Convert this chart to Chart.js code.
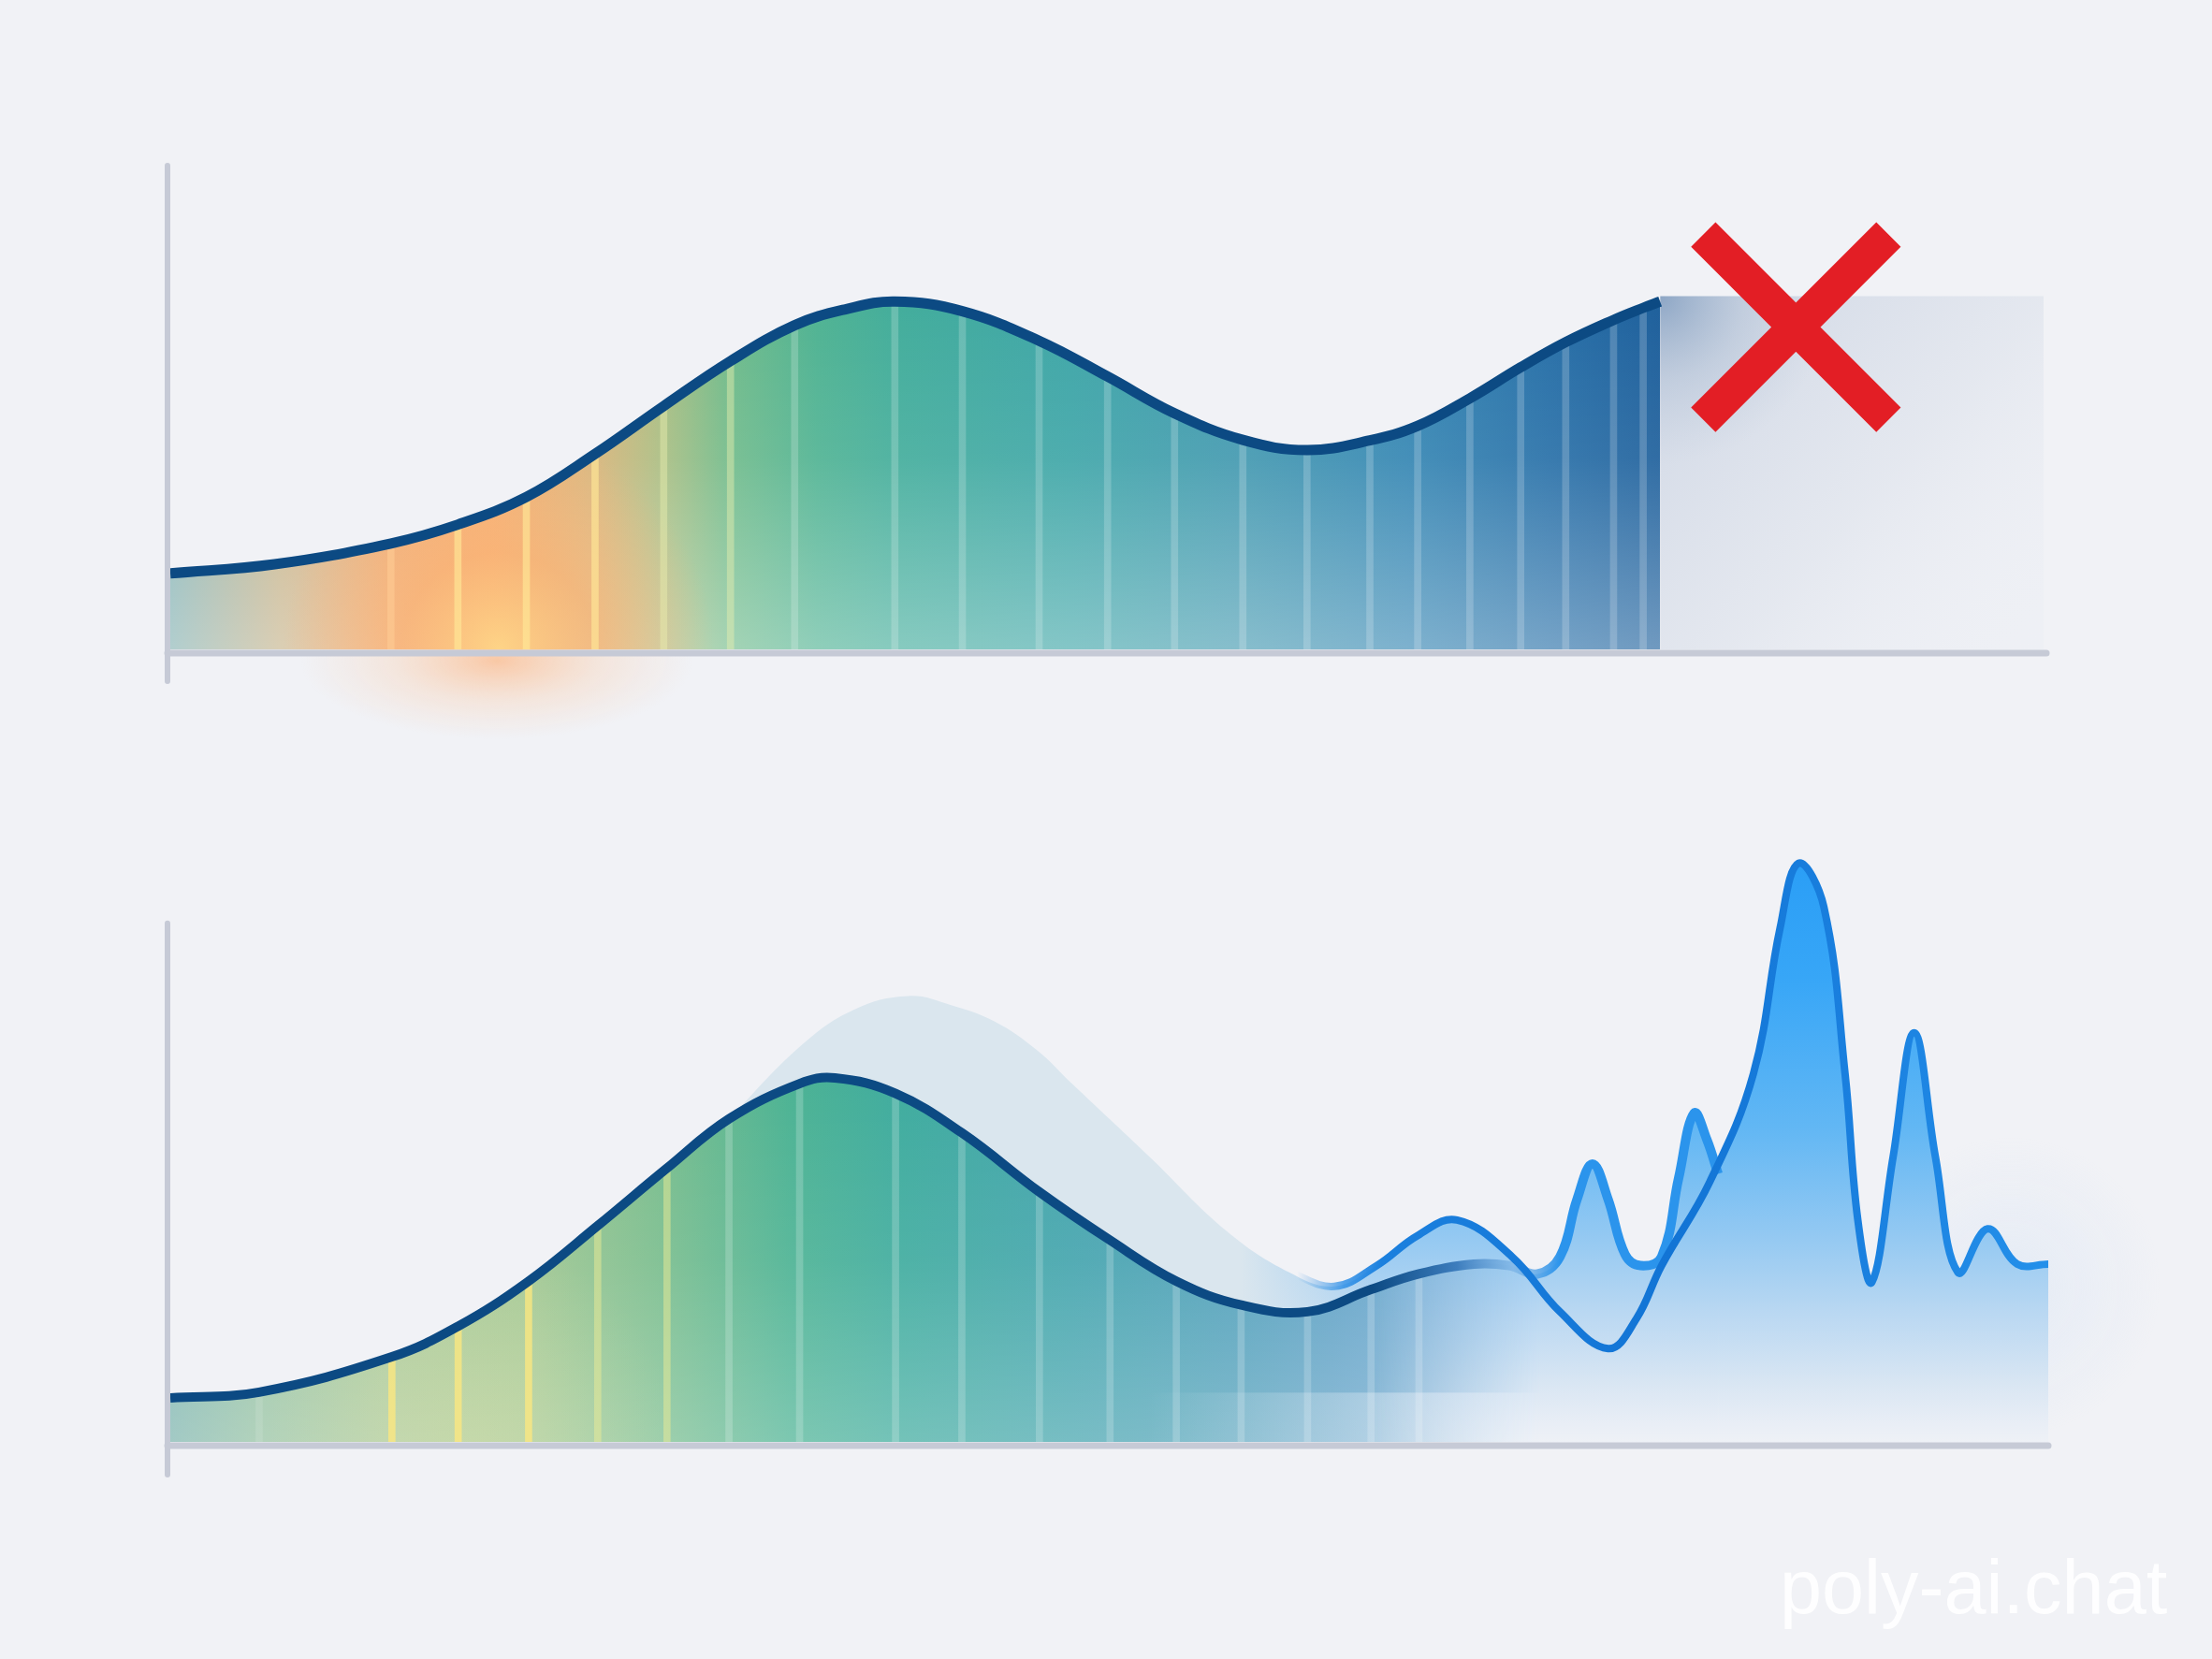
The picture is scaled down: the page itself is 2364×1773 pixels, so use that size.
<!DOCTYPE html>
<html>
<head>
<meta charset="utf-8">
<script src="https://cdn.jsdelivr.net/npm/chart.js@4.4.1/dist/chart.umd.min.js"></script>
<style>
html,body{margin:0;padding:0;background:#f1f2f6;width:2364px;height:1773px;overflow:hidden;}
canvas{position:absolute;left:0;}
#c1{top:0;}
#c2{top:780px;}
#wm{position:absolute;left:1902px;top:1656px;font-family:"Liberation Sans",Arial,sans-serif;font-size:81px;line-height:1;color:rgba(255,255,255,0.92);white-space:nowrap;}
</style>
</head>
<body>
<canvas id="c1" width="2364" height="900"></canvas>
<canvas id="c2" width="2364" height="993"></canvas>
<div id="wm">poly-ai.chat</div>
<script>
// ---------- DATA (x: 0..100 along the axis, y: value above baseline) ----------
// Top panel: measured curve, cut off
const topX = [0,5.56,11.76,15.33,18.98,22.64,26.30,29.86,33.28,35.99,38.62,42.22,46.31,49.96,53.53,57.17,60.59,63.94,66.49,69.27,71.98,74.38,76.93,78.51,79.41];
const topY = [15.7,17.6,21.9,25.8,31.5,40.4,50.3,59.6,67.0,70.3,71.9,69.9,63.8,56.4,48.8,43.3,41.2,43.2,46.2,51.9,58.3,63.5,68.1,70.6,71.9];
const topStripeX = [11.76,15.33,18.98,22.64,26.30,29.86,33.28,38.62,42.22,46.31,49.96,53.53,57.17,60.59,63.94,66.49,69.27,71.98,74.38,76.93,78.51];
const topGhostX = [79.41,99.85];
const topGhostY = [73.0,73.0];
const crossX = [86.65];
const crossY = [66.6];

// Bottom panel: measured curve continuing into a lighter trace
const botActualX = [0,4.73,11.80,15.33,19.08,22.76,26.45,29.75,33.51,35.39,38.62,42.15,46.28,50.04,53.57,57.02,60.56,63.94,66.49,69.42,71.30,72.80,74.00,74.91,75.73,76.56,77.46,78.29,79.41,80.32,81.14,81.82,82.42];
const botActualY = [8.5,9.6,16.4,22.3,31.0,41.7,52.8,62.3,69.1,70.2,67.2,59.6,48.2,38.9,31.0,26.4,25.1,29.4,32.4,34.3,34.0,32.4,35.7,46.8,53.6,46.8,36.2,34.0,35.7,50.9,63.4,58.3,51.7];
const botStripeX = [4.73,11.80,15.33,19.08,22.76,26.45,29.75,33.51,38.62,42.15,46.28,50.04,53.57,57.02,60.56,63.94,66.49];
// Bottom panel: expected (ghost) curve turning into the oscillating trace
const botForecastX = [29.75,33.51,36.36,39.29,41.62,43.88,46.13,48.01,52.14,56.27,59.58,61.98,64.24,66.42,68.52,71.45,74.00,76.56,78.06,79.41,81.97,84.30,85.72,86.70,88.05,89.18,89.86,90.61,91.74,92.86,93.99,95.19,96.77,98.35,100];
const botForecastY = [62.3,76.2,83.3,86.0,84.2,81.1,75.6,69.1,55.0,40.6,32.7,30.0,34.0,39.8,42.8,35.7,25.1,18.0,23.7,34.0,50.1,71.0,99.1,111.6,103.2,71.0,42.8,30.8,55.0,78.9,55.0,32.7,41.1,34.3,34.3];
const forecastLineStart = 10;

// ---------- STYLE ----------
const NAVY = '#0c4a83';
const AXIS = '#c6cad6';
const TOP_FILL_STOPS = [[0,'#86b3b4'],[5.9,'#c6b38a'],[11.7,'#eba66d'],[17.2,'#f3aa6c'],[22.7,'#d6b479'],[26.3,'#a9be83'],[29.9,'#70bb8b'],[34.5,'#50b393'],[39,'#43ad9c'],[48,'#3fa6a8'],[57,'#4399b0'],[66,'#3586b3'],[73.5,'#2870a8'],[79.5,'#1f609c'],[100,'#1f609c']];
const BOT_FILL_STOPS = [[0,'#80b6b0'],[5,'#96c2a2'],[11.8,'#a6c796'],[19,'#a0c690'],[26.4,'#78bd8e'],[33,'#4db394'],[39,'#40ac9f'],[48,'#45a5ae'],[57,'#52a0bb'],[62,'#60a2c6'],[68,'#74abd4'],[74,'#84bbe8'],[100,'#8fc5f2']];
const BLUE_V_STOPS = [[0,'#2a9ef6'],[0.2,'#37a6f7'],[0.46,'#62b7f4'],[0.64,'#92c8f2'],[0.78,'#bad8f2'],[0.9,'#d9e6f3'],[0.97,'#e9eef6'],[1,'#eef1f6']];

const pts = (xs, ys) => xs.map((x, i) => ({x, y: ys[i]}));
const lookup = (xs, ys, sel) => sel.map(x => ({x, y: ys[xs.indexOf(x)]}));

const cache = new WeakMap();
function offCanvas(w, h) { const c = document.createElement('canvas'); c.width = w; c.height = h; return c; }
function pattern(chart, key, painter) {
  let m = cache.get(chart); if (!m) { m = {}; cache.set(chart, m); }
  if (!m[key]) {
    const off = offCanvas(chart.width, chart.height);
    painter(off.getContext('2d'), chart.scales.x, chart.scales.y, chart.chartArea);
    m[key] = chart.ctx.createPattern(off, 'no-repeat');
  }
  return m[key];
}
const scriptPattern = (key, painter) => (c) => {
  const ch = c.chart; if (!ch.chartArea) return 'rgba(0,0,0,0)';
  return pattern(ch, key, painter);
};
function hGrad(g, X, stops) {
  const gr = g.createLinearGradient(X.getPixelForValue(0), 0, X.getPixelForValue(100), 0);
  stops.forEach(([v, c]) => gr.addColorStop(v / 100, c));
  return gr;
}
function radial(g, cx, cy, r, stops) {
  const gr = g.createRadialGradient(cx, cy, 0, cx, cy, r);
  stops.forEach(([v, c]) => gr.addColorStop(v, c));
  g.fillStyle = gr; g.fillRect(cx - r, cy - r, 2 * r, 2 * r);
}
function vGrad(g, Y, fromVal, stops) {
  const gr = g.createLinearGradient(0, Y.getPixelForValue(fromVal), 0, Y.getPixelForValue(0));
  stops.forEach(([v, c]) => gr.addColorStop(v, c));
  g.fillStyle = gr; g.fillRect(0, 0, g.canvas.width, g.canvas.height);
}

function paintTopFill(g, X, Y) {
  g.fillStyle = hGrad(g, X, TOP_FILL_STOPS);
  g.fillRect(0, 0, g.canvas.width, g.canvas.height);
  vGrad(g, Y, 72, [[0,'rgba(255,255,255,0)'],[0.45,'rgba(255,255,255,0.08)'],[1,'rgba(255,255,255,0.36)']]);
  radial(g, X.getPixelForValue(17.5), Y.getPixelForValue(0), 230,
    [[0,'rgba(255,214,130,0.85)'],[0.45,'rgba(252,172,102,0.55)'],[1,'rgba(252,172,102,0)']]);
}
function paintTopGhost(g, X, Y) {
  const x0 = X.getPixelForValue(79.41), y0 = Y.getPixelForValue(73), x1 = X.getPixelForValue(100), y1 = Y.getPixelForValue(0);
  g.fillStyle = '#eef0f5'; g.fillRect(0, 0, g.canvas.width, g.canvas.height);
  const d = g.createLinearGradient(x0, y0, x1, y1);
  d.addColorStop(0, 'rgba(206,214,228,1)'); d.addColorStop(0.55, 'rgba(226,230,238,0.8)'); d.addColorStop(1, 'rgba(240,241,246,0)');
  g.fillStyle = d; g.fillRect(0, 0, g.canvas.width, g.canvas.height);
  radial(g, x0, y0, 180, [[0,'rgba(130,158,192,0.85)'],[0.5,'rgba(160,180,205,0.35)'],[1,'rgba(180,195,215,0)']]);
}
function paintBlue(g, Y) { vGrad(g, Y, 112, BLUE_V_STOPS); }
function paintBotActual(g, X, Y) {
  const w = g.canvas.width, h = g.canvas.height;
  g.fillStyle = hGrad(g, X, BOT_FILL_STOPS);
  g.fillRect(0, 0, w, h);
  vGrad(g, Y, 70, [[0,'rgba(255,255,255,0)'],[0.5,'rgba(255,255,255,0.08)'],[1,'rgba(255,255,255,0.27)']]);
  radial(g, X.getPixelForValue(16), Y.getPixelForValue(0), 220, [[0,'rgba(230,226,150,0.22)'],[1,'rgba(230,226,150,0)']]);
  // lighter band along the base on the right
  const band = g.createLinearGradient(X.getPixelForValue(52), 0, X.getPixelForValue(72), 0);
  band.addColorStop(0, 'rgba(246,248,252,0)'); band.addColorStop(1, 'rgba(246,248,252,0.55)');
  g.fillStyle = band; g.fillRect(0, Y.getPixelForValue(9.5), w, 300);
  // blend into the blue of the trace on the right
  const off = offCanvas(w, h), g2 = off.getContext('2d');
  paintBlue(g2, Y);
  g2.globalCompositeOperation = 'destination-in';
  const m = g2.createLinearGradient(X.getPixelForValue(64), 0, X.getPixelForValue(73), 0);
  m.addColorStop(0, 'rgba(0,0,0,0)'); m.addColorStop(1, 'rgba(0,0,0,1)');
  g2.fillStyle = m; g2.fillRect(0, 0, w, h);
  g.drawImage(off, 0, 0);
}
function paintBotForecast(g, X, Y) {
  paintBlue(g, Y);
  const h = g.createLinearGradient(X.getPixelForValue(57), 0, X.getPixelForValue(64), 0);
  h.addColorStop(0, 'rgba(218,230,238,1)'); h.addColorStop(1, 'rgba(218,230,238,0)');
  g.fillStyle = h; g.fillRect(0, 0, X.getPixelForValue(64), g.canvas.height);
}

const axesPlugin = {
  id: 'axes',
  beforeDraw(chart, args, o) { if (o.under) o.under(chart); },
  afterDatasetsDraw(chart, args, o) {
    const {ctx, chartArea: a, scales: {x, y}} = chart;
    ctx.save();
    ctx.strokeStyle = AXIS; ctx.lineCap = 'round';
    ctx.lineWidth = 6;
    ctx.beginPath(); ctx.moveTo(a.left - 3, y.getPixelForValue(100)); ctx.lineTo(a.left - 3, a.bottom + o.tail); ctx.stroke();
    ctx.lineWidth = 7;
    ctx.beginPath(); ctx.moveTo(a.left - 3, a.bottom + 4); ctx.lineTo(x.getPixelForValue(100), a.bottom + 4); ctx.stroke();
    ctx.restore();
  }
};

function baseOptions(padBottom, padTop, yMax, axesOpts) {
  return {
    responsive: false, animation: false, devicePixelRatio: 1, events: [],
    layout: {padding: {left: 182, right: 175, top: padTop, bottom: padBottom}},
    scales: {
      x: {type: 'linear', min: 0, max: 100, display: false, offset: false},
      y: {type: 'linear', min: 0, max: yMax, display: false}
    },
    elements: {point: {radius: 0}, line: {tension: 0.4}},
    plugins: {legend: {display: false}, tooltip: {enabled: false}, filler: {drawTime: 'beforeDatasetsDraw'}, axes: axesOpts}
  };
}

// ---------- TOP CHART ----------
const topStripeColors = topStripeX.map((x, i) =>
  i === 0 ? 'rgba(255,205,150,0.55)' : i < 4 ? 'rgba(255,232,150,0.65)' : i < 6 ? 'rgba(235,240,175,0.45)' : 'rgba(255,255,255,0.2)');

new Chart(document.getElementById('c1'), {
  type: 'line',
  data: {datasets: [
    {label: 'ghost', data: pts(topGhostX, topGhostY), borderWidth: 0, borderColor: 'rgba(0,0,0,0)',
     fill: 'origin', tension: 0, backgroundColor: scriptPattern('ghost', paintTopGhost), order: 5},
    {type: 'bar', label: 'stripes', data: lookup(topX, topY, topStripeX), backgroundColor: topStripeColors,
     barThickness: 7, borderWidth: 0, order: 2},
    {label: 'measured', data: pts(topX, topY), borderColor: NAVY, borderWidth: 11, fill: 'origin',
     backgroundColor: scriptPattern('fill', paintTopFill), order: 1},
    {label: 'rejected', data: pts(crossX, crossY), showLine: false, pointStyle: 'crossRot', pointRadius: 140,
     pointBorderWidth: 37, pointBorderColor: '#e31e25', pointBackgroundColor: '#e31e25', clip: false, order: 0}
  ]},
  options: baseOptions(206, 173, 100, {tail: 34, under(chart) {
    const {ctx, scales: {x, y}} = chart;
    const cx = x.getPixelForValue(17.4), cy = y.getPixelForValue(0) + 12;
    ctx.save(); ctx.translate(cx, cy); ctx.scale(1, 0.4);
    const g = ctx.createRadialGradient(0, 0, 0, 0, 0, 210);
    g.addColorStop(0, 'rgba(255,172,112,0.6)'); g.addColorStop(0.5, 'rgba(255,190,140,0.25)'); g.addColorStop(1, 'rgba(255,200,160,0)');
    ctx.fillStyle = g; ctx.fillRect(-220, -220, 440, 440); ctx.restore();
  }}),
  plugins: [axesPlugin]
});

// ---------- BOTTOM CHART ----------
const botStripeColors = botStripeX.map((x, i) =>
  i === 0 ? 'rgba(255,255,255,0.12)' : i < 4 ? 'rgba(255,232,125,0.75)' : i < 6 ? 'rgba(238,236,150,0.5)' : 'rgba(255,255,255,0.2)');

new Chart(document.getElementById('c2'), {
  type: 'line',
  data: {datasets: [
    {label: 'expected', data: pts(botForecastX, botForecastY), borderWidth: 0, borderColor: 'rgba(0,0,0,0)',
     fill: 'origin', backgroundColor: scriptPattern('fc', paintBotForecast), order: 6},
    {type: 'bar', label: 'stripes', data: lookup(botActualX, botActualY, botStripeX), backgroundColor: botStripeColors,
     barThickness: 7, borderWidth: 0, order: 4},
    {label: 'measured', data: pts(botActualX, botActualY), borderWidth: 10, fill: 'origin',
     backgroundColor: scriptPattern('act', paintBotActual), order: 3,
     borderColor: (c) => {
       const ch = c.chart; if (!ch.chartArea) return NAVY;
       const X = ch.scales.x;
       const g = ch.ctx.createLinearGradient(X.getPixelForValue(0), 0, X.getPixelForValue(100), 0);
       g.addColorStop(0, NAVY); g.addColorStop(0.64, NAVY); g.addColorStop(0.685, '#3d7dbd');
       g.addColorStop(0.715, 'rgba(110,170,225,0.55)'); g.addColorStop(0.74, '#2b94ec'); g.addColorStop(1, '#2b94ec');
       return g;
     }},
    {label: 'trace', data: pts(botForecastX.slice(forecastLineStart), botForecastY.slice(forecastLineStart)), borderWidth: 8, fill: false, order: 1,
     borderColor: (c) => {
       const ch = c.chart; if (!ch.chartArea) return '#1677d6';
       const X = ch.scales.x;
       const g = ch.ctx.createLinearGradient(X.getPixelForValue(0), 0, X.getPixelForValue(100), 0);
       g.addColorStop(0, 'rgba(60,150,230,0)'); g.addColorStop(0.6, 'rgba(60,150,230,0)'); g.addColorStop(0.625, 'rgba(40,140,230,0.8)');
       g.addColorStop(0.645, '#1b80de'); g.addColorStop(0.8, '#1274d5'); g.addColorStop(0.9, '#1a80df'); g.addColorStop(1, '#2490ea');
       return g;
     }}
  ]},
  options: baseOptions(232, 96, 120, {tail: 35, under(chart) {
    const {ctx, scales: {x, y}} = chart;
    const cx = x.getPixelForValue(98), cy = y.getPixelForValue(30);
    const g = ctx.createRadialGradient(cx, cy, 0, cx, cy, 160);
    g.addColorStop(0, 'rgba(195,218,246,0.25)'); g.addColorStop(1, 'rgba(195,218,246,0)');
    ctx.save(); ctx.fillStyle = g; ctx.fillRect(cx - 160, cy - 160, 320, 320); ctx.restore();
  }}),
  plugins: [axesPlugin]
});
</script>
</body>
</html>
